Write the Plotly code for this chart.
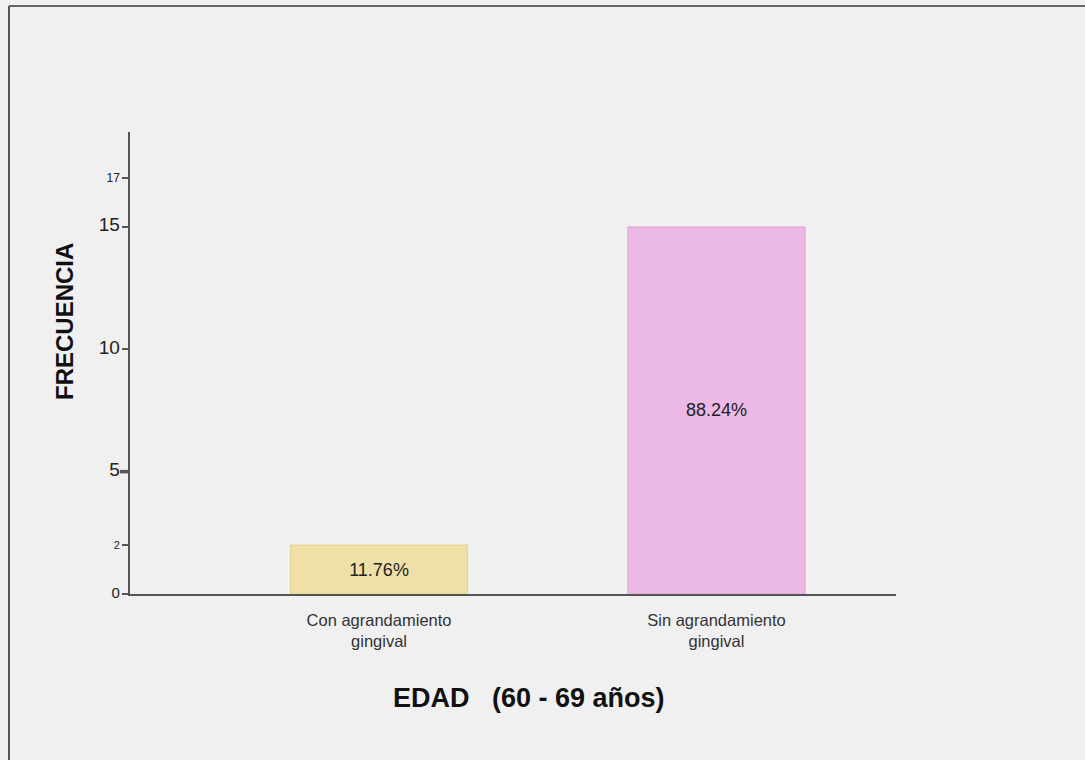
import plotly.graph_objects as go

# Data
categorias = ["Con agrandamiento<br>gingival", "Sin agrandamiento<br>gingival"]
frecuencias = [2, 15]
porcentajes = ["11.76%", "88.24%"]
tick_valores = [0, 2, 5, 10, 15, 17]
tick_tamanos = [15, 11, 19, 19, 19, 12]

colores = ["#efe0a8", "#ecb8e5"]
bordes = ["#e6d488", "#e2a2d2"]

W, H = 1085, 760
L, R, T, B = 130, 189, 132, 166

fig = go.Figure(
    go.Bar(
        x=[0, 1],
        y=frecuencias,
        width=0.525,
        text=porcentajes,
        textposition="inside",
        insidetextanchor="middle",
        textfont=dict(family="Arial, Liberation Sans", size=18, color="#222222"),
        marker=dict(color=colores, line=dict(color=bordes, width=1)),
        hoverinfo="skip",
    )
)

ticktext = [
    f'<span style="font-size:{s}px">{v}</span>' for v, s in zip(tick_valores, tick_tamanos)
]

fig.update_layout(
    width=W,
    height=H,
    margin=dict(l=L, r=R, t=T, b=B, pad=0),
    paper_bgcolor="#f0f0f0",
    plot_bgcolor="#f0f0f0",
    showlegend=False,
    font=dict(family="Arial, Liberation Sans", color="#222222"),
    xaxis=dict(
        tickmode="array",
        tickvals=[0, 1],
        ticktext=categorias,
        range=[-0.738, 1.532],
        showgrid=False,
        zeroline=False,
        showline=True,
        linecolor="#555555",
        linewidth=1.5,
        ticks="",
        ticklabelstandoff=10,
        tickfont=dict(size=16.5, color="#333333"),
    ),
    yaxis=dict(
        range=[0, 18.88],
        tickmode="array",
        tickvals=tick_valores,
        ticktext=ticktext,
        showgrid=False,
        zeroline=False,
        showline=True,
        linecolor="#555555",
        linewidth=1.5,
        ticks="outside",
        ticklen=6,
        tickwidth=1.5,
        tickcolor="#555555",
        tickfont=dict(color="#222222"),
    ),
)

# thick tick at 5
fig.add_shape(
    type="line", xref="paper", yref="y",
    x0=-0.013, x1=0, y0=5, y1=5,
    line=dict(color="#555555", width=3.5),
)

# outer frame (top and left edges)
fx = (9 - L) / (W - L - R)
fy = (H - B - 6) / (H - T - B)
fig.add_shape(type="line", xref="paper", yref="paper", x0=fx, x1=(W - L) / (W - L - R),
              y0=fy, y1=fy, line=dict(color="#666666", width=2))
fig.add_shape(type="line", xref="paper", yref="paper", x0=fx, x1=fx,
              y0=fy, y1=(H - B - H) / (H - T - B), line=dict(color="#555555", width=2))

# axis titles
fig.add_annotation(
    text="<b>FRECUENCIA</b>", xref="paper", yref="paper",
    x=(64 - L) / (W - L - R), y=(H - B - 322) / (H - T - B),
    textangle=-90, showarrow=False, xanchor="center", yanchor="middle",
    font=dict(size=24, color="#111111"),
)
fig.add_annotation(
    text="<b>EDAD\u00a0\u00a0 (60 - 69 años)</b>", xref="paper", yref="paper",
    x=(529 - L) / (W - L - R), y=(H - B - 698) / (H - T - B),
    showarrow=False, xanchor="center", yanchor="middle",
    font=dict(size=27, color="#111111"),
)

fig.write_html("out.html")
